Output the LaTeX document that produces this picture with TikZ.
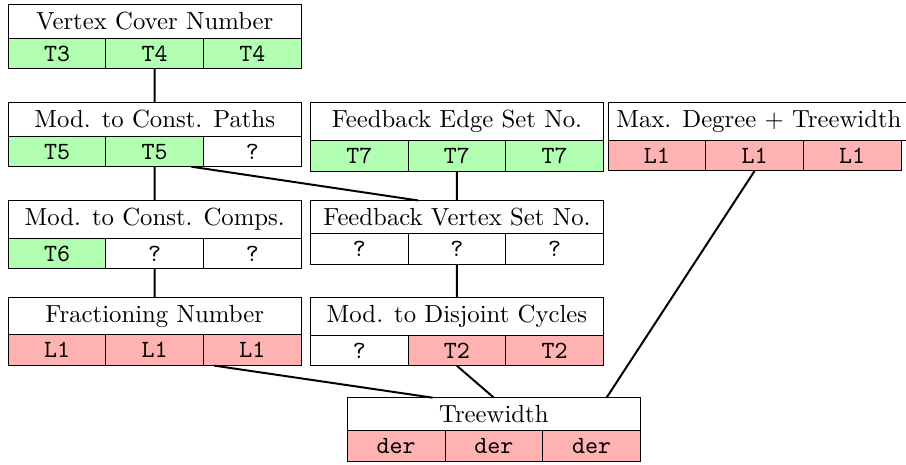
\documentclass[tikz,border=0pt]{standalone}
\usetikzlibrary{positioning}

\begin{document}
\begin{tikzpicture}[
    title/.style={draw, fill=white, minimum width=4.16cm, inner ysep=3.1pt, outer sep=0pt, anchor=north, font=\nonfrenchspacing},
    cell/.style={draw, minimum width=1.3867cm, text height=6.2pt, text depth=0pt, inner ysep=3.1pt, outer sep=0pt, font=\ttfamily},
    yes/.style={cell, fill=green!30},
    no/.style={cell, fill=red!30},
    open/.style={cell, fill=white},
    edge/.style={thick}
]
\useasboundingbox (0,0) rectangle (12.865,-6.589);

% first row
\node[title] (vc) at (2.197,-0.067) {Vertex Cover Number};
\node[yes, below right=0pt of vc.south west] (vc1) {T3};
\node[yes, right=0pt of vc1] (vc2) {T4};
\node[yes, right=0pt of vc2] (vc3) {T4};

% second row
\node[title] (mcp) at (2.197,-1.458) {Mod. to Const. Paths};
\node[yes, below right=0pt of mcp.south west] (mcp1) {T5};
\node[yes, right=0pt of mcp1] (mcp2) {T5};
\node[open, right=0pt of mcp2] (mcp3) {?};

\node[title] (fes) at (6.489,-1.458) {Feedback Edge Set No.};
\node[yes, below right=0pt of fes.south west] (fes1) {T7};
\node[yes, right=0pt of fes1] (fes2) {T7};
\node[yes, right=0pt of fes2] (fes3) {T7};

\node[title] (md) at (10.776,-1.458) {Max. Degree + Treewidth};
\node[no, below right=0pt of md.south west] (md1) {L1};
\node[no, right=0pt of md1] (md2) {L1};
\node[no, right=0pt of md2] (md3) {L1};

% third row
\node[title] (mcc) at (2.197,-2.847) {Mod. to Const. Comps.};
\node[yes, below right=0pt of mcc.south west] (mcc1) {T6};
\node[open, right=0pt of mcc1] (mcc2) {?};
\node[open, right=0pt of mcc2] (mcc3) {?};

\node[title] (fvs) at (6.489,-2.847) {Feedback Vertex Set No.};
\node[open, below right=0pt of fvs.south west] (fvs1) {?};
\node[open, right=0pt of fvs1] (fvs2) {?};
\node[open, right=0pt of fvs2] (fvs3) {?};

% fourth row
\node[title] (frac) at (2.197,-4.222) {Fractioning Number};
\node[no, below right=0pt of frac.south west] (frac1) {L1};
\node[no, right=0pt of frac1] (frac2) {L1};
\node[no, right=0pt of frac2] (frac3) {L1};

\node[title] (mdc) at (6.489,-4.222) {Mod. to Disjoint Cycles};
\node[open, below right=0pt of mdc.south west] (mdc1) {?};
\node[no, right=0pt of mdc1] (mdc2) {T2};
\node[no, right=0pt of mdc2] (mdc3) {T2};

% bottom
\node[title] (tw) at (7.013,-5.647) {Treewidth};
\node[no, below right=0pt of tw.south west] (tw1) {der};
\node[no, right=0pt of tw1] (tw2) {der};
\node[no, right=0pt of tw2] (tw3) {der};

% connections
\draw[edge] (vc2.south) -- (mcp.north);
\draw[edge] (mcp2.south) -- (mcc.north);
\draw[edge] ([xshift=0.52cm]mcp2.south) -- ([xshift=-0.55cm]fvs.north);
\draw[edge] (fes2.south) -- (fvs.north);
\draw[edge] (mcc2.south) -- (frac.north);
\draw[edge] (fvs2.south) -- (mdc.north);
\draw[edge] ([xshift=-0.54cm]frac3.south) -- ([xshift=-0.87cm]tw.north);
\draw[edge] (mdc2.south) -- (tw.north);
\draw[edge] (md2.south) -- ([xshift=1.6cm]tw.north);

\end{tikzpicture}
\end{document}
